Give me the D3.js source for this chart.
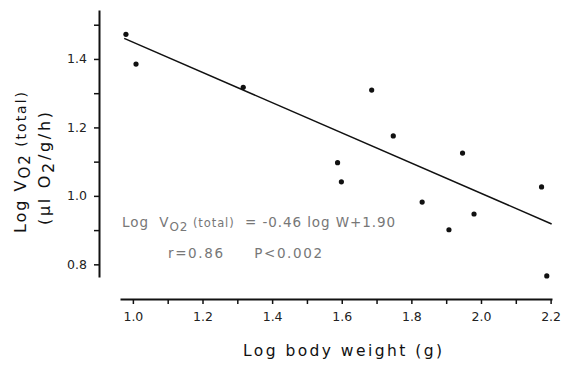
<!DOCTYPE html>
<html><head><meta charset="utf-8">
<script src="https://cdn.jsdelivr.net/npm/d3@7"></script>
<style>body{margin:0;background:#fff}svg{display:block}text{white-space:pre}</style>
</head><body>
<svg id="c" width="562" height="365"></svg>
<script>
const weightX = [0.98, 1.009, 1.317, 1.686, 1.748, 1.588, 1.599, 1.947, 1.831, 1.980, 1.908, 2.174, 2.189];
const vo2Y    = [1.472, 1.385, 1.317, 1.309, 1.175, 1.097, 1.041, 1.125, 0.982, 0.947, 0.901, 1.026, 0.766];
const fitX = [0.975, 2.203];
const fitY = [1.460, 0.918];
const xTicks = [1.0,1.1,1.2,1.3,1.4,1.5,1.6,1.7,1.8,1.9,2.0,2.1,2.2];
const xTickLabels = ["1.0","","1.2","","1.4","","1.6","","1.8","","2.0","","2.2"];
const yTicks = [0.8,0.9,1.0,1.1,1.2,1.3,1.4,1.5];
const yTickLabels = ["0.8","","1.0","","1.2","","1.4",""];

const svg = d3.select("#c");
const font = "'DejaVu Sans', 'Liberation Sans', sans-serif";
const x = d3.scaleLinear().domain([0.963, 2.204]).range([120, 552]);
const y = d3.scaleLinear().domain([0.763, 1.543]).range([277, 10]);

const xa = svg.append("g").attr("transform","translate(0,299)")
  .call(d3.axisBottom(x).tickValues(xTicks).tickSize(5).tickSizeOuter(0)
    .tickFormat((d,i)=>xTickLabels[i]));
const ya = svg.append("g").attr("transform","translate(99,0)")
  .call(d3.axisLeft(y).tickValues(yTicks).tickSize(5).tickSizeOuter(0)
    .tickFormat((d,i)=>yTickLabels[i]));
[xa,ya].forEach(a=>{
  a.select(".domain").attr("stroke","#111").attr("stroke-width",2);
  a.selectAll(".tick line").attr("stroke","#111").attr("stroke-width",1.5);
  a.selectAll("text").attr("font-family",font).attr("font-size",12.5).attr("fill","#222");
});
xa.selectAll("text").attr("dy","1.15em");
ya.selectAll("text").attr("dx","-4");

svg.append("line")
  .attr("x1",x(fitX[0])).attr("y1",y(fitY[0]))
  .attr("x2",x(fitX[1])).attr("y2",y(fitY[1]))
  .attr("stroke","#111").attr("stroke-width",1.5);

svg.append("g").selectAll("circle").data(weightX).join("circle")
  .attr("cx",d=>x(d)).attr("cy",(d,i)=>y(vo2Y[i])).attr("r",2.6).attr("fill","#111");

// equation annotations
const eq = svg.append("text").attr("x",122).attr("y",227)
  .attr("font-family",font).attr("font-size",13.5).attr("fill","#777")
  .attr("textLength",273).attr("lengthAdjust","spacing");
eq.append("tspan").text("Log  V");
eq.append("tspan").attr("font-size",12).attr("dy",4).text("O2");
eq.append("tspan").attr("font-size",11.5).attr("dy",-4).text(" (total)");
eq.append("tspan").text("  = -0.46 log W+1.90");
svg.append("text").attr("x",168).attr("y",258)
  .attr("font-family",font).attr("font-size",13.5).attr("fill","#777")
  .attr("textLength",154).attr("lengthAdjust","spacing")
  .text("r=0.86     P<0.002");

// axis titles
svg.append("text").attr("x",243).attr("y",356)
  .attr("font-family",font).attr("font-size",15.5).attr("fill","#111")
  .attr("textLength",199).attr("lengthAdjust","spacing")
  .text("Log body weight (g)");
const yt = svg.append("text").attr("transform","translate(26,233) rotate(-90)")
  .attr("font-family",font).attr("font-size",16).attr("fill","#111")
  .attr("textLength",141).attr("lengthAdjust","spacing");
yt.append("tspan").text("Log V");
yt.append("tspan").attr("dy",4).attr("font-size",15).text("O2");
yt.append("tspan").attr("dy",-4).attr("font-size",14).text(" (total)");
const yt2 = svg.append("text").attr("transform","translate(50,225) rotate(-90)")
  .attr("font-family",font).attr("font-size",16).attr("fill","#111")
  .attr("textLength",113).attr("lengthAdjust","spacing");
yt2.append("tspan").text("(μl O");
yt2.append("tspan").attr("dy",4).text("2");
yt2.append("tspan").attr("dy",-4).text("/g/h)");
</script>
</body></html>
